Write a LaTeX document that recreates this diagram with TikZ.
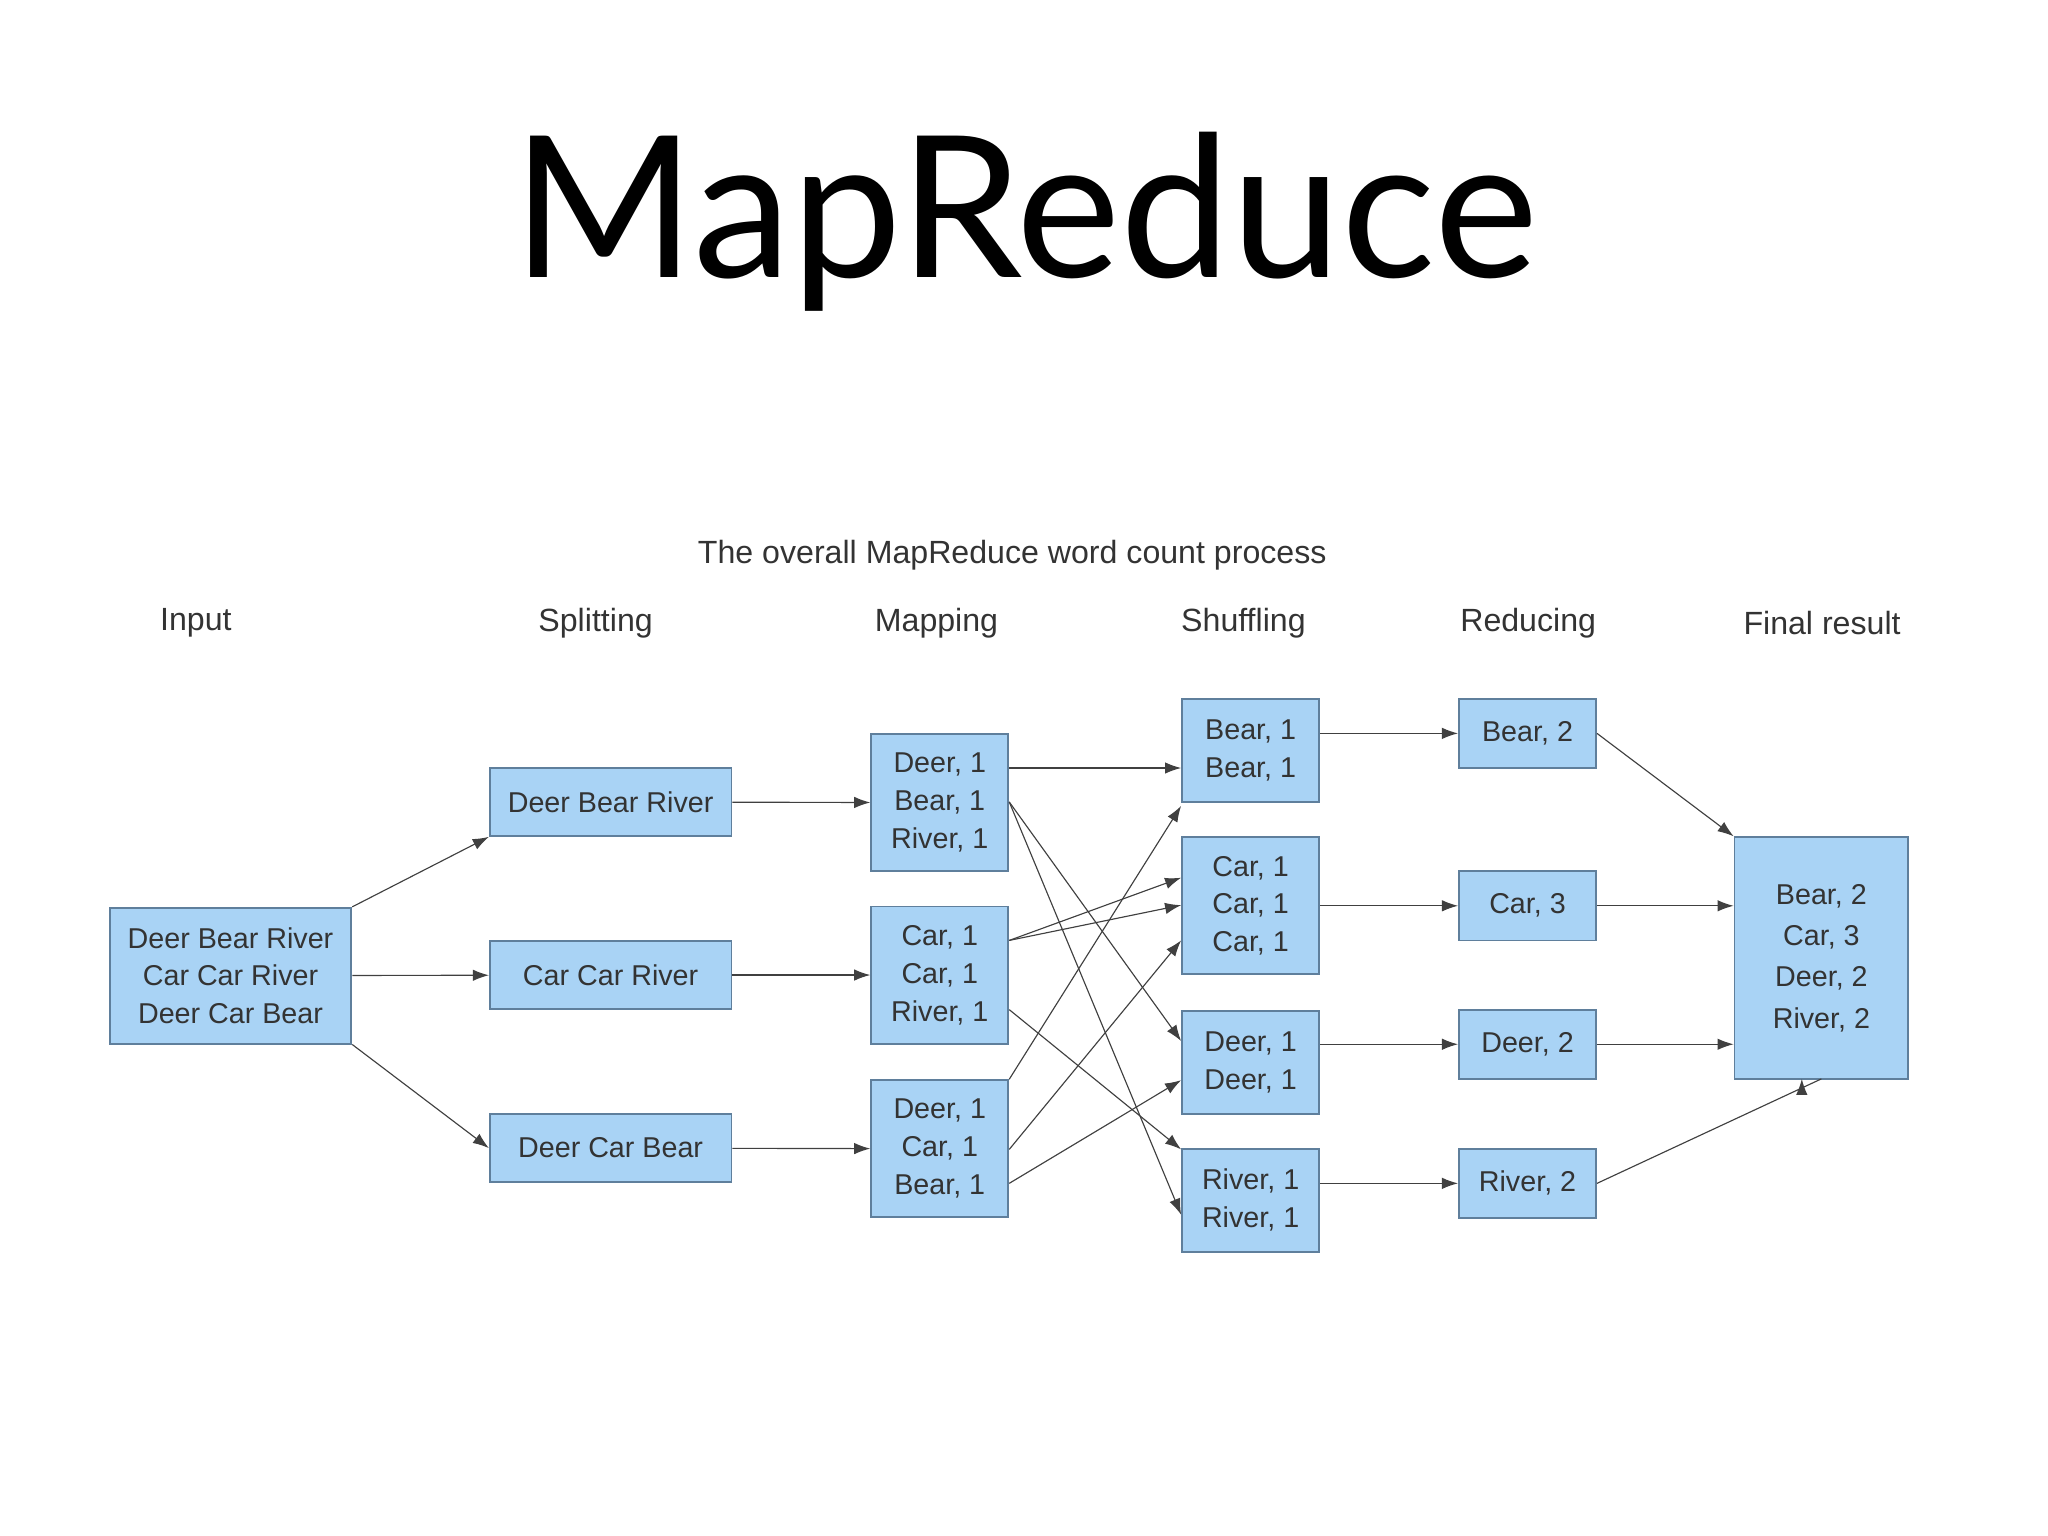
\documentclass[tikz,border=0pt]{standalone}
\usepackage{fontspec}
\setmainfont{Liberation Sans}
\newfontfamily\titlefont{Lato}
\usetikzlibrary{arrows.meta}
\definecolor{boxfill}{HTML}{A9D3F5}
\definecolor{boxdraw}{HTML}{5F7F9C}
\begin{document}
\begin{tikzpicture}[x=0.02cm,y=-0.02cm,
  box/.style={draw=boxdraw,fill=boxfill,line width=0.8pt,inner sep=0pt,align=center,font=\fontsize{12.5}{16.5}\selectfont,text=black!80},
  hdr/.style={font=\fontsize{14}{16}\selectfont,text=black!80},
  ar/.style={-{Latex[length=7pt,width=5pt]},draw=black!75,line width=0.5pt}]
\useasboundingbox (0,0) rectangle (1568,1176);
\node[font=\titlefont\fontsize{86}{90}\selectfont] (title) at (785,170) {MapReduce};
\node[hdr] (sub) at (775,425) {The overall MapReduce word count process};
\node[hdr] (h1) at (150,477) {Input};
\node[hdr] (h2) at (456,477) {Splitting};
\node[hdr] (h3) at (717,477) {Mapping};
\node[hdr] (h4) at (952,477) {Shuffling};
\node[hdr] (h5) at (1170,477) {Reducing};
\node[hdr] (h6) at (1395,477) {Final result};
% boxes
\node[box,minimum width=185*0.02cm,minimum height=104*0.02cm] (in) at (176.5,747) {Deer Bear River\\Car Car River\\Deer Car Bear};
\node[box,minimum width=185*0.02cm,minimum height=52*0.02cm] (s1) at (467.5,614) {Deer Bear River};
\node[box,minimum width=185*0.02cm,minimum height=52*0.02cm] (s2) at (467.5,746.5) {Car Car River};
\node[box,minimum width=185*0.02cm,minimum height=52*0.02cm] (s3) at (467.5,879) {Deer Car Bear};
\node[box,minimum width=105*0.02cm,minimum height=105*0.02cm] (m1) at (719.5,614.5) {Deer, 1\\Bear, 1\\River, 1};
\node[box,minimum width=105*0.02cm,minimum height=105*0.02cm] (m2) at (719.5,746.5) {Car, 1\\Car, 1\\River, 1};
\node[box,minimum width=105*0.02cm,minimum height=105*0.02cm] (m3) at (719.5,879.5) {Deer, 1\\Car, 1\\Bear, 1};
\node[box,minimum width=105*0.02cm,minimum height=79*0.02cm] (sh1) at (957.5,574.5) {Bear, 1\\Bear, 1};
\node[box,minimum width=105*0.02cm,minimum height=105*0.02cm] (sh2) at (957.5,693.5) {Car, 1\\Car, 1\\Car, 1};
\node[box,minimum width=105*0.02cm,minimum height=79*0.02cm] (sh3) at (957.5,813.5) {Deer, 1\\Deer, 1};
\node[box,minimum width=105*0.02cm,minimum height=79*0.02cm] (sh4) at (957.5,919) {River, 1\\River, 1};
\node[box,minimum width=105*0.02cm,minimum height=53*0.02cm] (r1) at (1169.5,561.5) {Bear, 2};
\node[box,minimum width=105*0.02cm,minimum height=53*0.02cm] (r2) at (1169.5,693.5) {Car, 3};
\node[box,minimum width=105*0.02cm,minimum height=53*0.02cm] (r3) at (1169.5,799.5) {Deer, 2};
\node[box,minimum width=105*0.02cm,minimum height=53*0.02cm] (r4) at (1169.5,906) {River, 2};
\node[box,minimum width=133*0.02cm,minimum height=185*0.02cm,font=\fontsize{12.5}{18}\selectfont] (f) at (1394.5,733.5) {Bear, 2\\Car, 3\\Deer, 2\\River, 2};
% input -> split
\draw[ar] (in.north east) -- (s1.south west);
\draw[ar] (in) -- (s2);
\draw[ar] (in.south east) -- (s3.west);
% split -> map
\draw[ar] (s1) -- (m1);
\draw[ar] (s2) -- (m2);
\draw[ar] (s3) -- (m3);
% map -> shuffle
\draw[ar] (m1.east |- 0,588) -- (sh1.west |- 0,588);
\draw[ar] (m1.east |- 0,614) -- (sh3.west |- 0,797);
\draw[ar] (m1.east |- 0,614) -- (sh4.west |- 0,930);
\draw[ar] (m2.east |- 0,720) -- (sh2.west |- 0,672);
\draw[ar] (m2.east |- 0,720) -- (sh2.west |- 0,693);
\draw[ar] (m2.east |- 0,773) -- (sh4.west |- 0,880);
\draw[ar] (m3.north east) -- (sh1.west |- 0,617);
\draw[ar] (m3.east |- 0,880) -- (sh2.west |- 0,720);
\draw[ar] (m3.east |- 0,906) -- (sh3.west |- 0,827);
% shuffle -> reduce
\draw[ar] (sh1.east |- r1) -- (r1);
\draw[ar] (sh2.east |- r2) -- (r2);
\draw[ar] (sh3.east |- r3) -- (r3);
\draw[ar] (sh4.east |- r4) -- (r4);
% reduce -> final
\draw[ar] (r1.east) -- (f.north west);
\draw[ar] (r2) -- (f.west |- r2);
\draw[ar] (r3) -- (f.west |- r3);
\draw[ar] (r4.east) -- (f.south |- 0,826) ++(-15,0);
\end{tikzpicture}
\end{document}
